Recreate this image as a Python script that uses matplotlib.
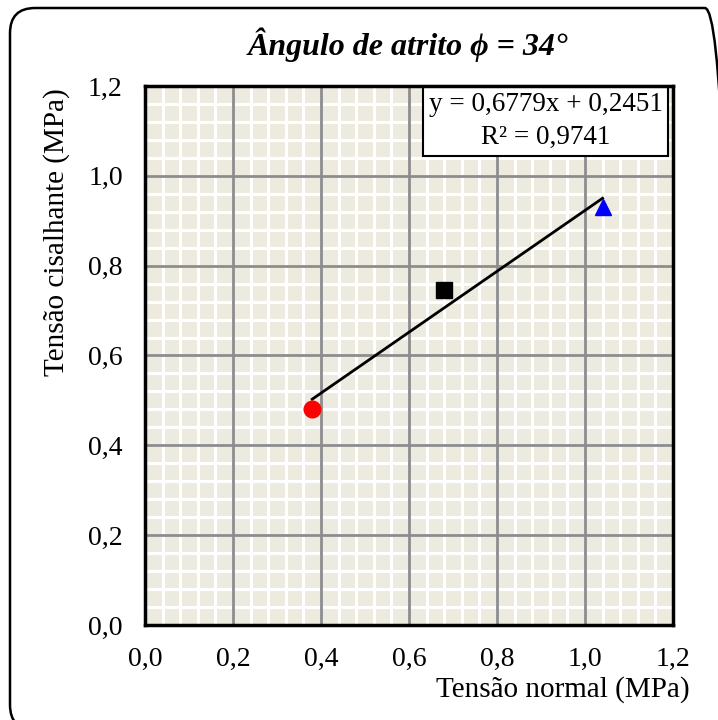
import matplotlib
matplotlib.use("Agg")
import matplotlib.pyplot as plt
import numpy as np
from matplotlib.patches import FancyBboxPatch
from matplotlib.ticker import MultipleLocator, FuncFormatter

plt.rcParams['font.family'] = ['Liberation Serif', 'DejaVu Serif']

normal = [0.38, 0.68, 1.04]
shear = [0.48, 0.746, 0.93]
colors = ['red', 'black', 'blue']
markers = ['o', 's', '^']
slope, intercept = 0.6779, 0.2451
eq_text = "y = 0,6779x + 0,2451\nR² = 0,9741"
title = "Ângulo de atrito ϕ = 34°"
xlabel = "Tensão normal (MPa)"
ylabel = "Tensão cisalhante (MPa)"

W, H = 718, 720
fig = plt.figure(figsize=(W/100, H/100), dpi=100)

# outer rounded border
border = FancyBboxPatch((10/W, (H-730)/H), (730-10)/W, (730-8)/H,
                        boxstyle="round,pad=0,rounding_size=0.035",
                        transform=fig.transFigure, fill=False, lw=1.8,
                        edgecolor='black', clip_on=False)
fig.patches.append(border)

ax = fig.add_axes([145/W, 1-625/H, (673-145)/W, (625-86)/H])
ax.set_facecolor('#EDEBE0')
ax.set_xlim(0, 1.2)
ax.set_ylim(0, 1.2)
ax.xaxis.set_major_locator(MultipleLocator(0.2))
ax.yaxis.set_major_locator(MultipleLocator(0.2))
fmt = FuncFormatter(lambda v, p: f"{v:.1f}".replace('.', ','))
ax.xaxis.set_major_formatter(fmt)
ax.yaxis.set_major_formatter(fmt)

# grid: minor white, major gray on top
minor = np.arange(0.04, 1.2, 0.04)
major = np.arange(0.2, 1.2, 0.2)
for v in minor:
    ax.axvline(v, color='white', lw=2.2, zorder=0.3)
    ax.axhline(v, color='white', lw=2.2, zorder=0.3)
for v in major:
    ax.axvline(v, color='#8C8C8C', lw=2.0, zorder=0.6)
    ax.axhline(v, color='#8C8C8C', lw=2.0, zorder=0.6)

ax.tick_params(which='both', length=0, labelsize=20)
ax.tick_params(axis='x', pad=16)
ax.tick_params(axis='y', pad=16)
for s in ax.spines.values():
    s.set_linewidth(2.5)
    s.set_color('black')
    s.set_zorder(6)

xs = np.array([min(normal), max(normal)])
ax.plot(xs, slope*xs + intercept, color='black', lw=2, zorder=3)
for x, y, c, m in zip(normal, shear, colors, markers):
    ax.plot(x, y, marker=m, color=c, markersize=12, ls='none', zorder=4)

ax.text(0.7585, 0.935, eq_text, transform=ax.transAxes, ha='center', va='center',
        fontsize=19.5, linespacing=1.4, zorder=5,
        bbox=dict(boxstyle='square,pad=0.22', facecolor='white', edgecolor='black', lw=1.5))

fig.text(408/W, 1-45/H, title, ha='center', va='center', fontsize=23,
         fontweight='bold', fontstyle='italic')
fig.text(690/W, 1-690/H, xlabel, ha='right', va='center', fontsize=21)
fig.text(57/W, 1-232/H, ylabel, ha='center', va='center', fontsize=21, rotation=90)

fig.savefig('out.png', dpi=100)
